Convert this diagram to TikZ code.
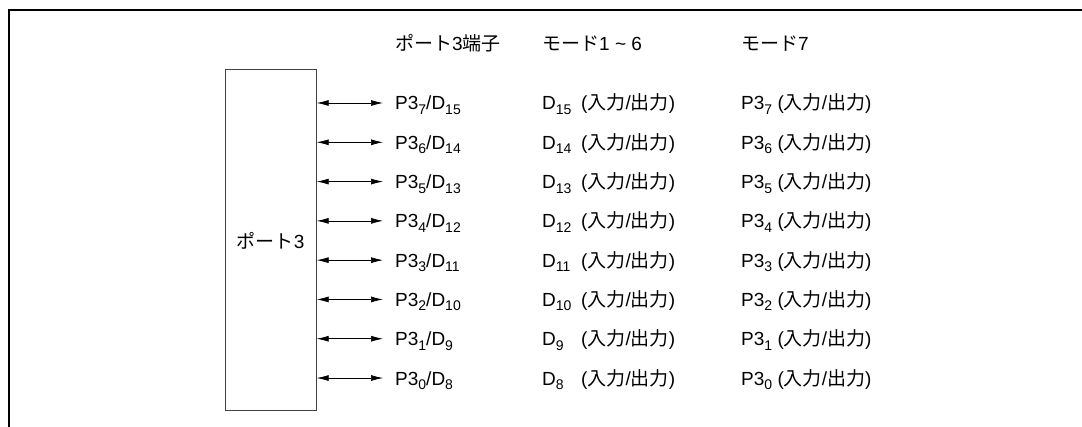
\documentclass[tikz,border=0pt]{standalone}
\usepackage{fontspec}
\setmainfont{Liberation Sans}
\newfontfamily\jpfont{Noto Sans CJK JP}
\usetikzlibrary{arrows.meta}
\newcommand{\J}[1]{{\jpfont #1}}
\newcommand{\sbs}[1]{\raisebox{-0.45ex}{\fontsize{14}{14}\selectfont #1}}
\newcommand{\io}{(\J{入力}/\J{出力})}
\tikzset{
  frame/.style={line width=2pt},
  portbox/.style={draw=black!75, line width=1pt, minimum width=91pt, minimum height=341pt, inner sep=0pt},
  lbl/.style={anchor=base west, inner sep=0pt},
  bus/.style={>={Latex[length=12pt,width=6pt]}, <->, line width=0.7pt},
}
\begin{document}
\begin{tikzpicture}[x=1pt,y=-1pt, every node/.style={font=\fontsize{19}{22}\selectfont}]
\useasboundingbox (0,0) rectangle (1082,427);
\draw[frame] (9,428) -- (9,10) -- (1083,10);
\node[portbox] (port) at (270.7,240.5) {\J{ポート}3};
\node[lbl] (h1) at (395,51) {\J{ポート}3\J{端子}};
\node[lbl] (h2) at (542,51) {\J{モード}1 \textasciitilde{} 6};
\node[lbl] (h3) at (741,51) {\J{モード}7};
\foreach \r/\p/\d in {0/7/15,1/6/14,2/5/13,3/4/12,4/3/11,5/2/10,6/1/9,7/0/8}{
  \pgfmathsetmacro{\yy}{103+\r*39.29+7}
  \node[lbl] (pin\r) at (395,\yy) {P3\sbs{\p}/D\sbs{\d}};
  \node[lbl] (m\r) at (542,\yy) {\makebox[39pt][l]{D\sbs{\d}}\io};
  \node[lbl] (s\r) at (741,\yy) {P3\sbs{\p} \io};
  \coordinate (e\r) at ([xshift=-12pt,yshift=7pt]pin\r.base west);
  \draw[bus] (port.east |- e\r) -- (e\r);
}
\end{tikzpicture}
\end{document}
